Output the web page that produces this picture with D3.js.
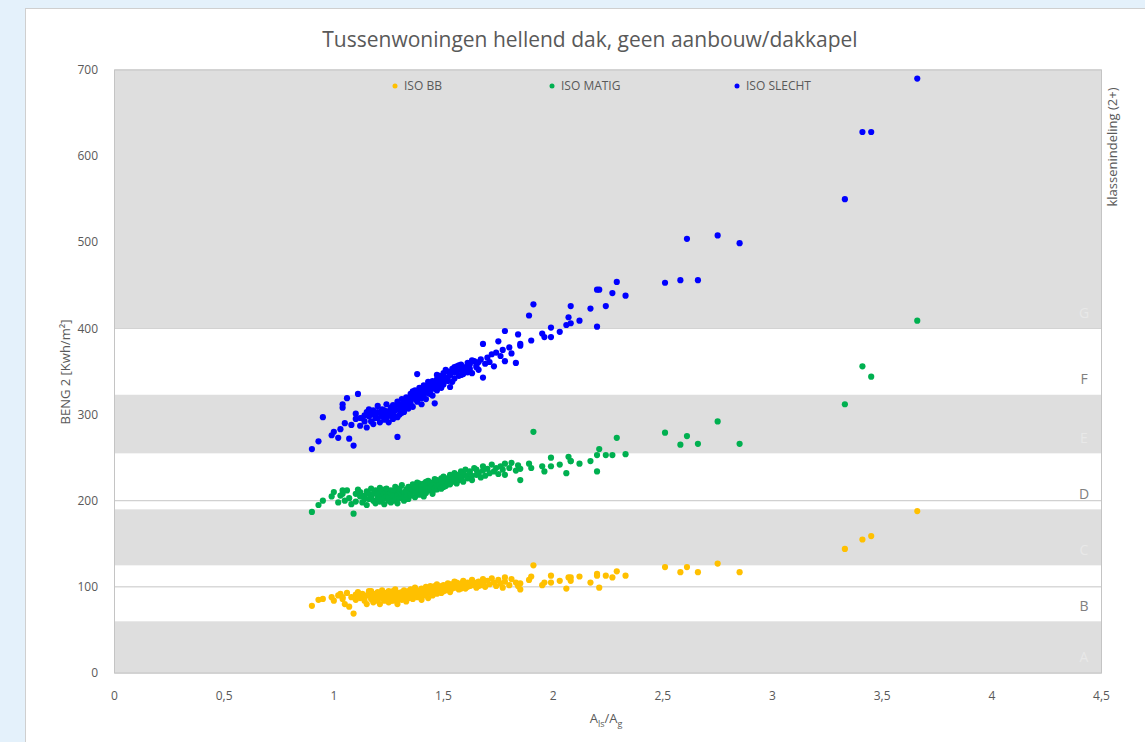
<!DOCTYPE html>
<html>
<head>
<meta charset="utf-8">
<script src="https://cdn.jsdelivr.net/npm/d3@7"></script>
<style>
  body { margin: 0; background: #e4f1fb; }
  text { font-family: "Open Sans", "Noto Sans", sans-serif; }
</style>
</head>
<body>
<svg id="chart"></svg>
<script>
// A_ls/A_g per woning (shared by all three insulation variants)
const ratio = [
  0.90,0.93,0.95,0.99,1.00,1.02,1.03,1.04,1.04,1.05,
  1.06,1.07,1.08,1.09,1.10,1.10,1.11,1.12,1.12,1.13,
  1.14,1.14,1.15,1.15,1.16,1.16,1.17,1.17,1.18,1.18,
  1.19,1.19,1.20,1.20,1.20,1.21,1.21,1.22,1.22,1.22,
  1.23,1.23,1.23,1.24,1.24,1.24,1.25,1.25,1.25,1.26,
  1.26,1.26,1.27,1.27,1.27,1.27,1.28,1.28,1.28,1.29,
  1.29,1.29,1.30,1.30,1.30,1.31,1.31,1.31,1.32,1.32,
  1.32,1.33,1.33,1.33,1.34,1.34,1.34,1.35,1.35,1.35,
  1.36,1.36,1.36,1.37,1.37,1.37,1.38,1.38,1.38,1.39,
  1.39,1.39,1.40,1.40,1.40,1.41,1.41,1.41,1.42,1.42,
  1.42,1.43,1.43,1.43,1.44,1.44,1.44,1.45,1.45,1.45,
  1.46,1.46,1.46,1.47,1.47,1.47,1.48,1.48,1.48,1.49,
  1.49,1.49,1.50,1.50,1.50,1.51,1.51,1.52,1.52,1.52,
  1.53,1.53,1.53,1.54,1.54,1.55,1.55,1.55,1.56,1.56,
  1.57,1.57,1.58,1.58,1.58,1.59,1.59,1.60,1.60,1.61,
  1.61,1.62,1.62,1.63,1.63,1.64,1.65,1.65,1.66,1.66,
  1.67,1.68,1.68,1.69,1.70,1.71,1.72,1.73,1.74,1.75,
  1.76,1.77,1.78,1.78,1.80,1.81,1.83,1.84,1.85,1.85,
  1.89,1.90,1.91,1.95,1.96,1.99,1.99,2.03,2.06,2.07,
  2.08,2.08,2.12,2.17,2.20,2.20,2.21,2.24,2.27,2.29,
  2.33,2.51,2.58,2.61,2.66,2.75,2.85,3.33,3.41,3.45,
  3.66
];

// BENG 2 [kWh/m2] per woning
const isoBB = [
  78,85,86,88,84,90,92,88,86,80,
  93,77,88,69,91,85,94,87,90,92,
  84,88,90,80,95,91,86,95,92,82,
  89,84,94,85,88,91,80,88,96,87,
  84,90,93,93,86,91,82,95,89,89,
  87,84,92,84,95,87,90,97,88,86,
  80,92,93,88,86,91,85,94,96,89,
  90,83,94,88,90,87,95,97,92,89,
  86,95,92,90,99,96,88,93,90,96,
  91,94,85,98,91,94,90,97,100,92,
  95,87,97,93,95,101,98,90,98,94,
  94,99,101,92,103,97,96,100,94,93,
  98,101,102,95,98,99,96,104,97,100,
  101,94,103,103,98,99,106,102,101,105,
  97,101,104,100,98,107,103,102,98,105,
  100,101,104,108,102,103,99,105,106,101,
  102,109,104,100,107,103,110,105,101,108,
  104,99,111,106,102,109,105,101,104,97,
  108,112,125,102,105,113,105,107,98,111,
  107,111,112,105,113,115,99,113,111,118,
  113,123,117,123,117,127,117,144,155,159,
  188
];

const isoMatig = [
  187,195,200,205,210,198,206,212,208,200,
  212,203,196,185,208,199,213,205,210,198,
  206,202,211,195,202,208,214,204,208,200,
  197,212,210,203,207,215,199,206,211,202,
  196,203,213,209,214,205,200,207,204,212,
  198,209,204,210,200,206,216,201,212,207,
  197,206,211,203,214,218,205,208,209,200,
  204,213,207,211,202,216,215,210,206,208,
  219,212,213,204,215,210,209,221,216,207,
  213,220,217,211,213,205,220,218,214,209,
  222,218,223,215,212,216,220,208,221,218,
  215,225,213,219,213,224,222,217,218,226,
  214,222,220,228,216,217,226,224,221,219,
  230,219,228,226,222,223,232,226,220,230,
  228,224,225,234,229,222,233,229,236,226,
  228,231,234,224,229,238,230,236,233,231,
  227,240,235,229,237,232,242,234,238,231,
  240,236,243,230,238,244,235,241,237,224,
  243,238,280,240,234,250,240,242,232,251,
  246,246,243,246,253,234,260,253,253,273,
  254,279,265,275,266,292,266,312,356,344,
  409
];

const isoSlecht = [
  260,269,297,276,280,273,283,312,308,290,
  319,272,288,264,301,295,324,287,296,296,
  292,299,303,285,298,306,292,300,305,289,
  300,296,296,310,303,302,291,298,306,303,
  294,300,305,312,297,296,291,304,299,299,
  308,302,295,302,311,305,310,298,305,315,
  274,297,306,300,312,318,309,302,303,314,
  308,311,320,316,307,317,312,324,313,318,
  309,322,327,318,328,321,347,315,324,326,
  320,331,312,330,319,323,334,327,327,318,
  333,331,325,338,336,329,324,322,339,330,
  313,333,337,341,328,346,336,345,333,331,
  340,344,348,335,339,343,352,339,350,343,
  332,346,348,353,338,342,349,355,356,350,
  345,357,352,358,346,347,354,355,350,360,
  349,353,358,348,363,362,357,355,352,361,
  364,343,382,359,366,361,370,356,372,385,
  368,375,397,362,378,371,360,393,382,380,
  415,386,428,394,390,401,390,396,404,413,
  406,426,409,423,402,445,445,426,441,454,
  438,453,456,504,456,508,499,550,628,628,
  690
];

const seriesNames = ["ISO BB", "ISO MATIG", "ISO SLECHT"];
const seriesColors = ["#ffc000", "#00b050", "#0000ff"];

// energy label bands (klassenindeling)
const bandEdges = [0, 60, 125, 190, 255, 323, 400, 700];
const bandLabels = ["A", "B", "C", "D", "E", "F", "G"];

const xTicks = [0, 0.5, 1, 1.5, 2, 2.5, 3, 3.5, 4, 4.5];
const yTicks = [0, 100, 200, 300, 400, 500, 600, 700];

const width = 1145, height = 742;
const plot = { left: 114.5, right: 1101.5, top: 70, bottom: 673 };

const svg = d3.select("#chart")
    .attr("width", width)
    .attr("height", height);

// outer frame
svg.append("rect")
    .attr("x", 0).attr("y", 0)
    .attr("width", width).attr("height", height)
    .attr("fill", "#e4f1fb");
svg.append("rect")
    .attr("x", 25.5).attr("y", 8.5)
    .attr("width", width).attr("height", height)
    .attr("fill", "#ffffff")
    .attr("stroke", "#cfcfcf");

var x = d3.scaleLinear().domain([0, 4.5]).range([plot.left, plot.right]);
var y = d3.scaleLinear().domain([0, 700]).range([plot.bottom, plot.top]);

// gridlines (behind the grey bands)
svg.append("g")
    .selectAll("line")
    .data(yTicks)
    .enter().append("line")
    .attr("x1", plot.left).attr("x2", plot.right)
    .attr("y1", d => y(d)).attr("y2", d => y(d))
    .attr("stroke", "#c6c6c6")
    .attr("stroke-width", 1);

// bands: even index grey, odd index white
var bands = bandLabels.map((lab, i) => ({ lab: lab, lo: bandEdges[i], hi: bandEdges[i + 1], grey: i % 2 === 0 }));

svg.append("g")
    .selectAll("rect")
    .data(bands.filter(d => d.grey))
    .enter().append("rect")
    .attr("x", plot.left)
    .attr("width", plot.right - plot.left)
    .attr("y", d => y(d.hi))
    .attr("height", d => y(d.lo) - y(d.hi))
    .attr("fill", "#dedede");

svg.append("g")
    .selectAll("text")
    .data(bands)
    .enter().append("text")
    .attr("x", 1084)
    .attr("y", d => y(d.lo + 18))
    .attr("dy", "0.35em")
    .attr("text-anchor", "middle")
    .style("font-size", "14px")
    .attr("fill", d => d.grey ? "#e8e8e8" : "#808080")
    .text(d => d.lab);

// plot border
svg.append("rect")
    .attr("x", plot.left).attr("y", plot.top)
    .attr("width", plot.right - plot.left)
    .attr("height", plot.bottom - plot.top)
    .attr("fill", "none")
    .attr("stroke", "#c4c4c4");

// tick labels
var fmt = d => String(d).replace(".", ",");
svg.append("g")
    .selectAll("text")
    .data(yTicks)
    .enter().append("text")
    .attr("x", 98)
    .attr("y", d => y(d))
    .attr("dy", "0.35em")
    .attr("text-anchor", "end")
    .style("font-size", "12px")
    .attr("fill", "#595959")
    .text(d => d);

svg.append("g")
    .selectAll("text")
    .data(xTicks)
    .enter().append("text")
    .attr("x", d => x(d))
    .attr("y", 700)
    .attr("text-anchor", "middle")
    .style("font-size", "12px")
    .attr("fill", "#595959")
    .text(fmt);

// title
svg.append("text")
    .attr("x", 590).attr("y", 47)
    .attr("text-anchor", "middle")
    .style("font-size", "21px")
    .attr("fill", "#595959")
    .text("Tussenwoningen hellend dak, geen aanbouw/dakkapel");

// axis titles
svg.append("text")
    .attr("transform", "translate(70,372) rotate(-90)")
    .attr("text-anchor", "middle")
    .style("font-size", "13px")
    .attr("fill", "#595959")
    .text("BENG 2 [Kwh/m²]");

var xt = svg.append("text")
    .attr("x", 606).attr("y", 723)
    .attr("text-anchor", "middle")
    .style("font-size", "13px")
    .attr("fill", "#595959");
xt.append("tspan").text("A");
xt.append("tspan").attr("dy", 4).style("font-size", "9px").text("ls");
xt.append("tspan").attr("dy", -4).text("/A");
xt.append("tspan").attr("dy", 4).style("font-size", "9px").text("g");

svg.append("text")
    .attr("transform", "translate(1117,147) rotate(-90)")
    .attr("text-anchor", "middle")
    .style("font-size", "13px")
    .attr("fill", "#595959")
    .text("klassenindeling (2+)");

// scatter series
var seriesValues = [isoBB, isoMatig, isoSlecht];
seriesValues.forEach(function(vals, s) {
    svg.append("g")
        .selectAll("circle")
        .data(vals)
        .enter().append("circle")
        .attr("cx", (d, i) => x(ratio[i]))
        .attr("cy", d => y(d))
        .attr("r", 3.1)
        .attr("fill", seriesColors[s]);
});

// legend
var legendX = [395, 552, 737];
var legend = svg.append("g")
    .selectAll("g")
    .data(seriesNames)
    .enter().append("g")
    .attr("transform", (d, i) => "translate(" + legendX[i] + ",86)");
legend.append("circle")
    .attr("r", 2.5)
    .attr("fill", (d, i) => seriesColors[i]);
legend.append("text")
    .attr("x", 9)
    .attr("dy", "0.35em")
    .style("font-size", "12px")
    .attr("fill", "#595959")
    .text(d => d);
</script>
</body>
</html>
